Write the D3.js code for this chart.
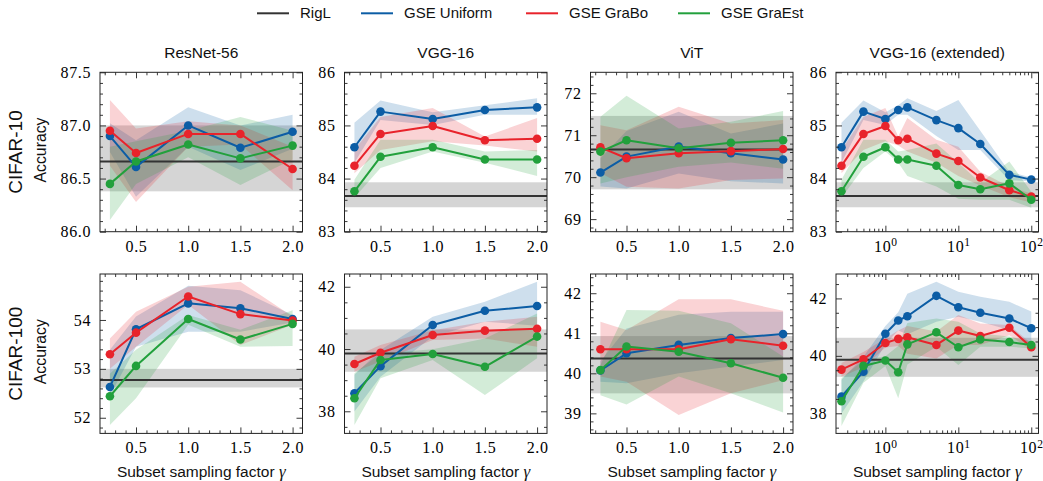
<!DOCTYPE html>
<html><head><meta charset="utf-8">
<script src="https://cdn.jsdelivr.net/npm/d3@7"></script>
<style>body{margin:0;background:#fff}svg{display:block}
.tk{font-family:"Liberation Serif","Times New Roman",serif !important;font-size:16px;letter-spacing:0.6px;fill:#000}
.sans{font-family:"Liberation Sans",Arial,Helvetica,sans-serif;fill:#111}
.gam{font-family:"Liberation Serif","Times New Roman",serif;font-style:italic}
</style>
</head><body><svg id="c" width="1043" height="481"></svg>
<script>
// ---------------- DATA ----------------
const seriesNames = ["RigL", "GSE Uniform", "GSE GraBo", "GSE GraEst"];
const modelTitles = ["ResNet-56", "VGG-16", "ViT", "VGG-16 (extended)"];
const datasetNames = ["CIFAR-10", "CIFAR-100"];
const gammaLin = [0.25, 0.5, 1.0, 1.5, 2.0];
const gammaExt = [0.25, 0.5, 1, 1.5, 2, 5, 10, 20, 50, 100];
const xTicksLin = [0.5, 1.0, 1.5, 2.0];
const xTicksLog = [1, 10, 100];

// CIFAR-10 / ResNet-56
const c10_resnet_rigl = [86.66, 86.38, 87.00]; // mean, low, high
const c10_resnet_uni = [86.90, 86.61, 87.00, 86.79, 86.94];
const c10_resnet_uni_lo = [86.75, 86.33, 86.80, 86.58, 86.78];
const c10_resnet_uni_hi = [87.02, 86.86, 87.17, 87.00, 87.10];
const c10_resnet_grabo = [86.95, 86.74, 86.92, 86.92, 86.59];
const c10_resnet_grabo_lo = [86.62, 86.28, 86.80, 86.82, 86.39];
const c10_resnet_grabo_hi = [87.24, 86.97, 87.04, 87.00, 86.80];
const c10_resnet_graest = [86.45, 86.66, 86.82, 86.69, 86.81];
const c10_resnet_graest_lo = [86.11, 86.45, 86.70, 86.44, 86.68];
const c10_resnet_graest_hi = [86.80, 86.85, 86.95, 87.08, 86.95];
const c10_resnet_yticks = [86.0, 86.5, 87.0, 87.5];

// CIFAR-10 / VGG-16
const c10_vgg_rigl = [83.67, 83.46, 83.93];
const c10_vgg_uni = [84.59, 85.26, 85.12, 85.29, 85.34];
const c10_vgg_uni_lo = [84.30, 85.10, 85.01, 85.20, 85.20];
const c10_vgg_uni_hi = [85.05, 85.47, 85.25, 85.38, 85.51];
const c10_vgg_grabo = [84.24, 84.84, 84.99, 84.72, 84.75];
const c10_vgg_grabo_lo = [84.10, 84.54, 84.70, 84.62, 84.51];
const c10_vgg_grabo_hi = [84.54, 85.16, 85.33, 84.79, 85.14];
const c10_vgg_graest = [83.76, 84.41, 84.59, 84.36, 84.36];
const c10_vgg_graest_lo = [83.64, 84.20, 84.51, 84.30, 84.05];
const c10_vgg_graest_hi = [83.98, 84.73, 84.73, 84.51, 84.54];
const c10_vgg_yticks = [83, 84, 85, 86];

// CIFAR-10 / ViT
const c10_vit_rigl = [70.66, 69.71, 71.46];
const c10_vit_uni = [70.11, 70.49, 70.73, 70.57, 70.42];
const c10_vit_uni_lo = [69.78, 69.73, 70.09, 69.90, 69.85];
const c10_vit_uni_hi = [70.45, 71.10, 71.56, 71.04, 71.28];
const c10_vit_grabo = [70.71, 70.45, 70.57, 70.62, 70.67];
const c10_vit_grabo_lo = [70.10, 69.77, 69.73, 69.93, 69.97];
const c10_vit_grabo_hi = [71.24, 71.12, 71.68, 71.28, 71.36];
const c10_vit_graest = [70.61, 70.88, 70.69, 70.82, 70.88];
const c10_vit_graest_lo = [69.85, 70.00, 70.25, 70.35, 70.20];
const c10_vit_graest_hi = [71.44, 71.94, 71.16, 71.32, 71.58];
const c10_vit_yticks = [69, 70, 71, 72];

// CIFAR-10 / VGG-16 (extended)
const c10_ext_rigl = [83.67, 83.46, 83.93];
const c10_ext_uni = [84.59, 85.26, 85.12, 85.29, 85.34, 85.10, 84.95, 84.65, 84.07, 83.98];
const c10_ext_uni_lo = [84.30, 85.10, 85.01, 85.20, 85.20, 84.80, 84.54, 84.54, 83.97, 83.95];
const c10_ext_uni_hi = [85.05, 85.47, 85.25, 85.38, 85.51, 85.27, 85.48, 84.90, 84.13, 84.02];
const c10_ext_grabo = [84.24, 84.84, 84.99, 84.72, 84.75, 84.47, 84.33, 84.02, 83.78, 83.66];
const c10_ext_grabo_lo = [84.10, 84.54, 84.70, 84.62, 84.51, 84.30, 84.05, 83.87, 83.65, 83.55];
const c10_ext_grabo_hi = [84.54, 85.16, 85.33, 84.79, 85.14, 84.73, 84.60, 84.13, 83.85, 83.72];
const c10_ext_graest = [83.76, 84.41, 84.59, 84.36, 84.36, 84.24, 83.88, 83.80, 83.91, 83.60];
const c10_ext_graest_lo = [83.64, 84.20, 84.51, 84.30, 84.05, 83.85, 83.62, 83.60, 83.60, 83.45];
const c10_ext_graest_hi = [83.98, 84.73, 84.73, 84.51, 84.54, 84.66, 84.30, 83.92, 84.32, 83.75];
const c10_ext_yticks = [83, 84, 85, 86];

// CIFAR-100 / ResNet-56
const c100_resnet_rigl = [52.77, 52.62, 53.00];
const c100_resnet_uni = [52.63, 53.81, 54.34, 54.24, 54.02];
const c100_resnet_uni_lo = [52.45, 53.45, 53.76, 53.76, 53.95];
const c100_resnet_uni_hi = [53.39, 54.07, 54.70, 54.61, 54.10];
const c100_resnet_grabo = [53.30, 53.74, 54.48, 54.12, 53.99];
const c100_resnet_grabo_lo = [53.00, 53.45, 54.31, 53.49, 53.90];
const c100_resnet_grabo_hi = [53.62, 54.17, 54.68, 54.78, 54.07];
const c100_resnet_graest = [52.44, 53.06, 54.02, 53.60, 53.92];
const c100_resnet_graest_lo = [51.85, 52.40, 53.90, 53.45, 53.47];
const c100_resnet_graest_hi = [52.90, 53.39, 54.10, 53.80, 54.20];
const c100_resnet_yticks = [52, 53, 54];

// CIFAR-100 / VGG-16
const c100_vgg_rigl = [39.86, 39.27, 40.63];
const c100_vgg_uni = [38.58, 39.45, 40.77, 41.23, 41.38];
const c100_vgg_uni_lo = [37.99, 39.11, 40.40, 40.88, 40.75];
const c100_vgg_uni_hi = [39.17, 39.97, 41.04, 41.52, 42.16];
const c100_vgg_grabo = [39.52, 39.88, 40.45, 40.59, 40.65];
const c100_vgg_grabo_lo = [39.27, 39.60, 40.29, 40.34, 40.07];
const c100_vgg_grabo_hi = [39.75, 40.13, 40.60, 40.88, 41.04];
const c100_vgg_graest = [38.42, 39.65, 39.84, 39.43, 40.40];
const c100_vgg_graest_lo = [37.56, 39.06, 39.65, 38.52, 39.70];
const c100_vgg_graest_hi = [39.22, 39.86, 39.99, 40.34, 41.14];
const c100_vgg_yticks = [38, 40, 42];

// CIFAR-100 / ViT
const c100_vit_rigl = [40.37, 39.50, 40.93];
const c100_vit_uni = [40.07, 40.50, 40.71, 40.88, 40.98];
const c100_vit_uni_lo = [39.79, 39.75, 40.00, 40.17, 40.33];
const c100_vit_uni_hi = [40.30, 41.12, 41.46, 41.54, 41.54];
const c100_vit_grabo = [40.60, 40.60, 40.60, 40.85, 40.69];
const c100_vit_grabo_lo = [39.92, 39.79, 38.96, 39.50, 39.83];
const c100_vit_grabo_hi = [41.29, 41.08, 41.85, 41.85, 41.56];
const c100_vit_graest = [40.08, 40.67, 40.54, 40.25, 39.89];
const c100_vit_graest_lo = [39.45, 39.22, 39.92, 39.50, 39.02];
const c100_vit_graest_hi = [40.20, 41.58, 41.56, 41.25, 40.42];
const c100_vit_yticks = [39, 40, 41, 42];

// CIFAR-100 / VGG-16 (extended)
const c100_ext_rigl = [39.86, 39.27, 40.63];
const c100_ext_uni = [38.58, 39.45, 40.77, 41.23, 41.38, 42.09, 41.69, 41.50, 41.30, 40.96];
const c100_ext_uni_lo = [37.99, 39.11, 40.40, 40.88, 40.75, 41.19, 41.36, 41.19, 40.90, 40.32];
const c100_ext_uni_hi = [39.17, 39.97, 41.04, 41.52, 42.16, 42.58, 42.23, 42.06, 41.88, 41.54];
const c100_ext_grabo = [39.52, 39.88, 40.45, 40.59, 40.65, 40.38, 40.88, 40.69, 40.98, 40.30];
const c100_ext_grabo_lo = [39.27, 39.60, 40.29, 40.34, 40.07, 39.91, 40.38, 40.38, 40.72, 40.20];
const c100_ext_grabo_hi = [39.75, 40.13, 40.60, 40.88, 41.04, 40.85, 41.42, 41.13, 41.07, 40.43];
const c100_ext_graest = [38.42, 39.65, 39.84, 39.43, 40.40, 40.82, 40.30, 40.57, 40.48, 40.38];
const c100_ext_graest_lo = [37.56, 39.06, 39.65, 38.52, 39.70, 40.32, 39.68, 40.32, 40.32, 40.26];
const c100_ext_graest_hi = [39.22, 39.86, 39.99, 40.34, 41.14, 41.30, 41.19, 40.78, 40.67, 40.50];
const c100_ext_yticks = [38, 40, 42];

// ---------------- STYLE / LAYOUT ----------------
const colors = ["#333333", "#0c5da5", "#e8232b", "#22a03c"];
const PW = 202.5, PH = 159.4;
const lefts = [100, 344.5, 590.5, 836];
const tops = [72.3, 274];
const svg = d3.select("#c");

function S(mean, lo, hi) { return mean.map((m, i) => ({ m, lo: lo[i], hi: hi[i] })); }

const panels = [
  { r: 0, c: 0, xs: gammaLin, log: false, yDom: [86.0, 87.5], yMinor: 0.1, fmt: ".1f", yt: c10_resnet_yticks, rigl: c10_resnet_rigl,
    ser: [S(c10_resnet_uni, c10_resnet_uni_lo, c10_resnet_uni_hi), S(c10_resnet_grabo, c10_resnet_grabo_lo, c10_resnet_grabo_hi), S(c10_resnet_graest, c10_resnet_graest_lo, c10_resnet_graest_hi)] },
  { r: 0, c: 1, xs: gammaLin, log: false, yDom: [83, 86], yMinor: 0.2, fmt: "d", yt: c10_vgg_yticks, rigl: c10_vgg_rigl,
    ser: [S(c10_vgg_uni, c10_vgg_uni_lo, c10_vgg_uni_hi), S(c10_vgg_grabo, c10_vgg_grabo_lo, c10_vgg_grabo_hi), S(c10_vgg_graest, c10_vgg_graest_lo, c10_vgg_graest_hi)] },
  { r: 0, c: 2, xs: gammaLin, log: false, yDom: [68.7, 72.5], yMinor: 0.2, fmt: "d", yt: c10_vit_yticks, rigl: c10_vit_rigl,
    ser: [S(c10_vit_uni, c10_vit_uni_lo, c10_vit_uni_hi), S(c10_vit_grabo, c10_vit_grabo_lo, c10_vit_grabo_hi), S(c10_vit_graest, c10_vit_graest_lo, c10_vit_graest_hi)] },
  { r: 0, c: 3, xs: gammaExt, log: true, yDom: [83, 86], yMinor: 0.2, fmt: "d", yt: c10_ext_yticks, rigl: c10_ext_rigl,
    ser: [S(c10_ext_uni, c10_ext_uni_lo, c10_ext_uni_hi), S(c10_ext_grabo, c10_ext_grabo_lo, c10_ext_grabo_hi), S(c10_ext_graest, c10_ext_graest_lo, c10_ext_graest_hi)] },
  { r: 1, c: 0, xs: gammaLin, log: false, yDom: [51.68, 54.94], yMinor: 0.2, fmt: "d", yt: c100_resnet_yticks, rigl: c100_resnet_rigl,
    ser: [S(c100_resnet_uni, c100_resnet_uni_lo, c100_resnet_uni_hi), S(c100_resnet_grabo, c100_resnet_grabo_lo, c100_resnet_grabo_hi), S(c100_resnet_graest, c100_resnet_graest_lo, c100_resnet_graest_hi)] },
  { r: 1, c: 1, xs: gammaLin, log: false, yDom: [37.29, 42.41], yMinor: 0.5, fmt: "d", yt: c100_vgg_yticks, rigl: c100_vgg_rigl,
    ser: [S(c100_vgg_uni, c100_vgg_uni_lo, c100_vgg_uni_hi), S(c100_vgg_grabo, c100_vgg_grabo_lo, c100_vgg_grabo_hi), S(c100_vgg_graest, c100_vgg_graest_lo, c100_vgg_graest_hi)] },
  { r: 1, c: 2, xs: gammaLin, log: false, yDom: [38.5, 42.48], yMinor: 0.2, fmt: "d", yt: c100_vit_yticks, rigl: c100_vit_rigl,
    ser: [S(c100_vit_uni, c100_vit_uni_lo, c100_vit_uni_hi), S(c100_vit_grabo, c100_vit_grabo_lo, c100_vit_grabo_hi), S(c100_vit_graest, c100_vit_graest_lo, c100_vit_graest_hi)] },
  { r: 1, c: 3, xs: gammaExt, log: true, yDom: [37.3, 42.85], yMinor: 0.5, fmt: "d", yt: c100_ext_yticks, rigl: c100_ext_rigl,
    ser: [S(c100_ext_uni, c100_ext_uni_lo, c100_ext_uni_hi), S(c100_ext_grabo, c100_ext_grabo_lo, c100_ext_grabo_hi), S(c100_ext_graest, c100_ext_graest_lo, c100_ext_graest_hi)] },
];

function styleAxis(sel) {
  sel.select(".domain").remove();
  sel.attr("font-family", null).attr("font-size", null);
  sel.selectAll(".tick line").attr("stroke", "#222").attr("stroke-width", 0.9);
  sel.selectAll(".tick text").attr("class", "tk").attr("fill", null);
}

function minorVals(dom, step, majors) {
  const lo = Math.ceil(dom[0] / step - 1e-9), hi = Math.floor(dom[1] / step + 1e-9);
  const out = [];
  for (let k = lo; k <= hi; k++) {
    const v = +(k * step).toFixed(6);
    if (!majors.some(m => Math.abs(m - v) < 1e-6)) out.push(v);
  }
  return out;
}

panels.forEach((p, idx) => {
  const g = svg.append("g").attr("transform", `translate(${lefts[p.c]},${tops[p.r]})`);
  const x = p.log ? d3.scaleLog().domain([0.2104, 125.6]).range([0, PW])
                  : d3.scaleLinear().domain([0.155, 2.095]).range([0, PW]);
  const y = d3.scaleLinear().domain(p.yDom).range([PH, 0]);
  const clipId = "clip" + idx;
  g.append("clipPath").attr("id", clipId).append("rect").attr("width", PW).attr("height", PH);
  const plot = g.append("g").attr("clip-path", `url(#${clipId})`);

  // RigL band
  plot.append("rect").attr("x", 0).attr("width", PW)
    .attr("y", y(p.rigl[2])).attr("height", y(p.rigl[1]) - y(p.rigl[2]))
    .attr("fill", "#808080").attr("fill-opacity", 0.33);

  const area = d3.area().x((d, i) => x(p.xs[i])).y0(d => y(d.lo)).y1(d => y(d.hi));
  p.ser.forEach((s, k) => {
    plot.append("path").datum(s).attr("d", area).attr("fill", colors[k + 1]).attr("fill-opacity", 0.2);
  });
  // RigL mean line
  plot.append("line").attr("x1", 0).attr("x2", PW).attr("y1", y(p.rigl[0])).attr("y2", y(p.rigl[0]))
    .attr("stroke", colors[0]).attr("stroke-width", 2);

  const line = d3.line().x((d, i) => x(p.xs[i])).y(d => y(d.m));
  p.ser.forEach((s, k) => {
    const gg = g.append("g");
    gg.append("path").datum(s).attr("d", line).attr("fill", "none")
      .attr("stroke", colors[k + 1]).attr("stroke-width", 2).attr("stroke-linejoin", "round");
    gg.selectAll("circle").data(s).join("circle")
      .attr("cx", (d, i) => x(p.xs[i])).attr("cy", d => y(d.m)).attr("r", 4.3)
      .attr("fill", colors[k + 1]);
  });

  // X axes
  let xMinor;
  if (p.log) {
    xMinor = [];
    [0.1, 1, 10].forEach(dec => { for (let m = 2; m <= 9; m++) { const v = m * dec; if (v > 0.2104 && v < 125.6) xMinor.push(v); } });
  } else {
    xMinor = minorVals([0.155, 2.095], 0.1, xTicksLin);
  }
  const xMaj = p.log ? xTicksLog : xTicksLin;
  const bx = g.append("g").attr("transform", `translate(0,${PH})`)
    .call(d3.axisBottom(x).tickValues(xMaj).tickSize(-6).tickSizeOuter(0).tickPadding(8.5)
      .tickFormat(p.log ? (d => "10") : d3.format(".1f")));
  styleAxis(bx);
  if (p.log) {
    bx.selectAll(".tick text").each(function (d) {
      d3.select(this).append("tspan").attr("dy", "-0.45em").style("font-size", "11.5px")
        .text(Math.round(Math.log10(d)));
    });
  }
  styleAxis(g.append("g").attr("transform", `translate(0,${PH})`)
    .call(d3.axisBottom(x).tickValues(xMinor).tickSize(-3).tickSizeOuter(0).tickFormat("")));
  styleAxis(g.append("g").call(d3.axisTop(x).tickValues(xMaj).tickSize(-6).tickSizeOuter(0).tickFormat("")));
  styleAxis(g.append("g").call(d3.axisTop(x).tickValues(xMinor).tickSize(-3).tickSizeOuter(0).tickFormat("")));

  // Y axes
  const yMinor = minorVals(p.yDom, p.yMinor, p.yt);
  styleAxis(g.append("g").call(d3.axisLeft(y).tickValues(p.yt).tickSize(-6).tickSizeOuter(0).tickPadding(9)
    .tickFormat(d3.format(p.fmt))));
  styleAxis(g.append("g").call(d3.axisLeft(y).tickValues(yMinor).tickSize(-3).tickSizeOuter(0).tickFormat("")));
  styleAxis(g.append("g").attr("transform", `translate(${PW},0)`)
    .call(d3.axisRight(y).tickValues(p.yt).tickSize(-6).tickSizeOuter(0).tickFormat("")));
  styleAxis(g.append("g").attr("transform", `translate(${PW},0)`)
    .call(d3.axisRight(y).tickValues(yMinor).tickSize(-3).tickSizeOuter(0).tickFormat("")));

  // frame
  g.append("rect").attr("width", PW).attr("height", PH).attr("fill", "none")
    .attr("stroke", "#222").attr("stroke-width", 1);

  // title
  if (p.r === 0) {
    g.append("text").attr("class", "sans").attr("x", PW / 2).attr("y", 58 - tops[0]).attr("text-anchor", "middle")
      .style("font-size", "15.5px").text(modelTitles[p.c]);
  }
  // x label
  if (p.r === 1) {
    const t = g.append("text").attr("class", "sans").attr("x", PW / 2).attr("y", 477 - tops[1]).attr("text-anchor", "middle")
      .style("font-size", "15.5px");
    t.append("tspan").text("Subset sampling factor ");
    t.append("tspan").attr("class", "gam").style("font-size", "17px").text("γ");
  }
  // row labels
  if (p.c === 0) {
    svg.append("text").attr("class", "sans").attr("transform", `translate(22,${tops[p.r] + PH / 2}) rotate(-90)`)
      .attr("text-anchor", "middle").style("font-size", "19px").text(datasetNames[p.r]);
    svg.append("text").attr("class", "sans").attr("transform", `translate(46,${tops[p.r] + PH / 2 - 2}) rotate(-90)`)
      .attr("text-anchor", "middle").style("font-size", "15.8px").text("Accuracy");
  }
});

// Legend
const legX = [257, 361, 526, 678];
seriesNames.forEach((n, i) => {
  const lg = svg.append("g").attr("transform", `translate(${legX[i]},0)`);
  lg.append("line").attr("x1", 0).attr("x2", 32).attr("y1", 13.3).attr("y2", 13.3)
    .attr("stroke", colors[i]).attr("stroke-width", 2);
  lg.append("text").attr("class", "sans").attr("x", 43).attr("y", 18.3).style("font-size", "15px").text(n);
});
</script></body></html>
